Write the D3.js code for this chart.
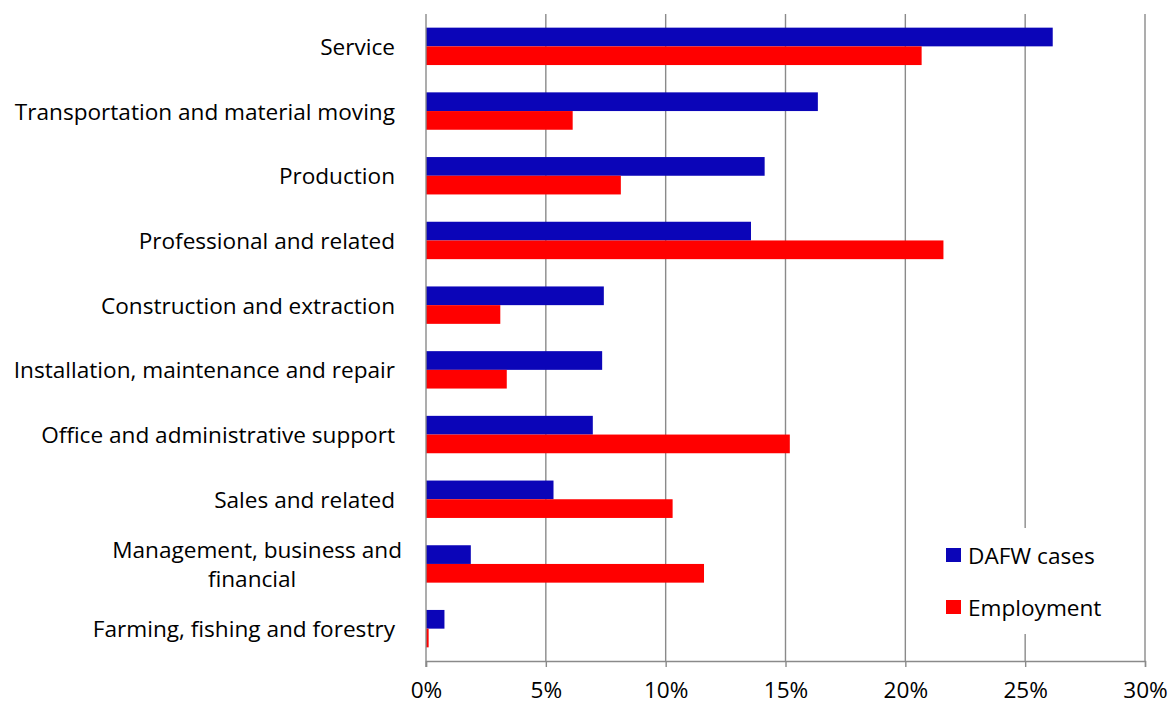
<!DOCTYPE html>
<html>
<head>
<meta charset="utf-8">
<script src="https://cdn.jsdelivr.net/npm/d3@7/dist/d3.min.js"></script>
<style>
  html, body { margin: 0; padding: 0; background: #fff; }
  svg text { font-family: "Open Sans", Lato, sans-serif; fill: #000; }
</style>
</head>
<body>
<svg id="chart" width="1169" height="706"></svg>
<script>
// Occupation groups, top to bottom
const categories = [
  "Service",
  "Transportation and material moving",
  "Production",
  "Professional and related",
  "Construction and extraction",
  "Installation, maintenance and repair",
  "Office and administrative support",
  "Sales and related",
  "Management, business and|financial",
  "Farming, fishing and forestry"
];
// Share of DAFW cases (%)
const dafwCases = [26.15, 16.35, 14.13, 13.56, 7.42, 7.35, 6.96, 5.32, 1.87, 0.77];
// Share of employment (%)
const employment = [20.68, 6.12, 8.13, 21.59, 3.10, 3.37, 15.18, 10.29, 11.60, 0.11];
const seriesNames = ["DAFW cases", "Employment"];
const seriesColors = ["#0B05B8", "#FF0000"];
const xTicks = [0, 5, 10, 15, 20, 25, 30];

const FS = "22.6px";
const svg = d3.select("#chart");
const margin = { left: 426, right: 24, top: 14, bottom: 45 };
const W = 1169, H = 706;
const plotW = W - margin.left - margin.right;
const plotH = H - margin.top - margin.bottom;

const x = d3.scaleLinear().domain([0, 30]).range([0, plotW]);
const y = d3.scaleBand().domain(categories).range([0, plotH]).padding(0);
const ySub = d3.scaleBand().domain(seriesNames).range([0, y.bandwidth()])
  .paddingInner(0).paddingOuter(0.73);

const g = svg.append("g").attr("transform", `translate(${margin.left},${margin.top})`);

// vertical gridlines
g.append("g").selectAll("line")
  .data(xTicks.slice(1))
  .join("line")
  .attr("x1", d => x(d)).attr("x2", d => x(d))
  .attr("y1", 0).attr("y2", plotH)
  .attr("stroke", "#8a8a8a").attr("stroke-width", 1.4);

// bars
const rows = categories.map((c, i) => ({ c, vals: [dafwCases[i], employment[i]] }));
const grp = g.append("g").selectAll("g")
  .data(rows).join("g")
  .attr("transform", d => `translate(0,${y(d.c)})`);
grp.selectAll("rect")
  .data(d => d.vals.map((v, k) => ({ v, k })))
  .join("rect")
  .attr("x", 0)
  .attr("y", d => ySub(seriesNames[d.k]))
  .attr("width", d => x(d.v))
  .attr("height", ySub.bandwidth())
  .attr("fill", d => seriesColors[d.k]);

// x axis
const xAxis = d3.axisBottom(x)
  .tickValues(xTicks)
  .tickFormat(d => d + "%")
  .tickSize(6)
  .tickPadding(15);
const ax = g.append("g").attr("transform", `translate(0,${plotH})`).call(xAxis);
ax.select(".domain").attr("stroke", "#8a8a8a").attr("stroke-width", 1.4);
ax.selectAll(".tick line").attr("stroke", "#8a8a8a").attr("stroke-width", 1.4);
ax.selectAll(".tick text").style("font-size", FS).attr("fill", "#000");

// vertical category axis line
g.append("line")
  .attr("x1", 0).attr("x2", 0).attr("y1", 0).attr("y2", plotH + 6)
  .attr("stroke", "#8a8a8a").attr("stroke-width", 1.4);

// category labels
const labelG = g.append("g");
categories.forEach(c => {
  const lines = c.split("|");
  const cy = y(c) + y.bandwidth() / 2;
  if (lines.length === 1) {
    labelG.append("text")
      .attr("x", -31).attr("y", cy)
      .attr("text-anchor", "end")
      .attr("dominant-baseline", "central")
      .style("font-size", FS)
      .text(lines[0]);
  } else {
    const t1 = labelG.append("text")
      .attr("x", -24).attr("y", cy - 14.5)
      .attr("text-anchor", "end")
      .attr("dominant-baseline", "central")
      .style("font-size", FS)
      .text(lines[0]);
    const w1 = t1.node().getComputedTextLength();
    labelG.append("text")
      .attr("x", -24 - w1 / 2 - 5).attr("y", cy + 14.5)
      .attr("text-anchor", "middle")
      .attr("dominant-baseline", "central")
      .style("font-size", FS)
      .text(lines[1]);
  }
});

// legend
const lg = svg.append("g").attr("transform", "translate(934,528)");
lg.append("rect").attr("width", 185).attr("height", 106).attr("fill", "#fff");
seriesNames.forEach((s, i) => {
  const row = lg.append("g").attr("transform", `translate(12,${27 + i * 52})`);
  row.append("rect").attr("x", 0).attr("y", -7).attr("width", 15).attr("height", 14)
    .attr("fill", seriesColors[i]);
  row.append("text").attr("x", 22).attr("y", 0)
    .attr("dominant-baseline", "central")
    .style("font-size", FS)
    .text(s);
});
</script>
</body>
</html>
